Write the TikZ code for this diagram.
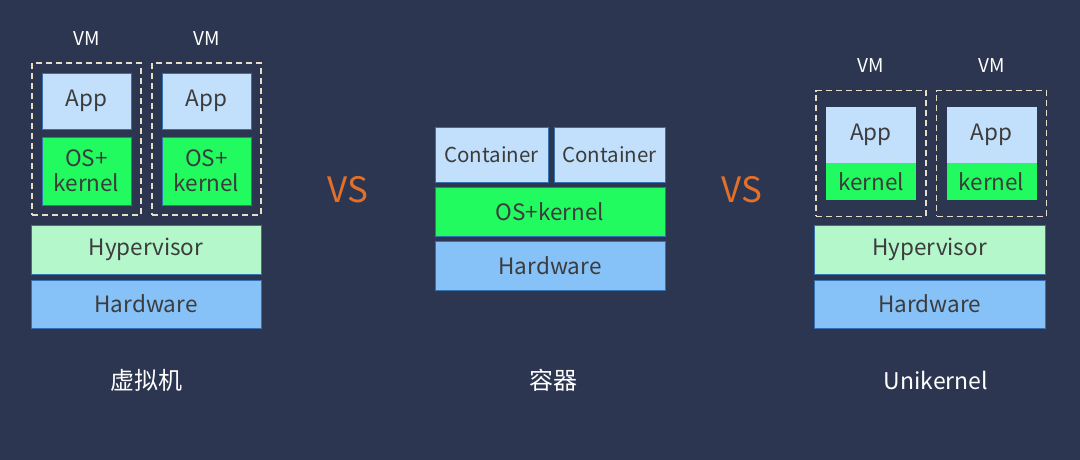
\documentclass[tikz,border=0pt]{standalone}
\usepackage{fontspec}
\setmainfont{Noto Sans CJK SC}
\usepackage{tikz}
\usetikzlibrary{positioning,fit}
\definecolor{bg}{HTML}{2D3650}
\definecolor{ink}{HTML}{3C3C3C}
\definecolor{edge}{HTML}{3570B0}
\definecolor{apppale}{HTML}{C2E0FB}
\definecolor{osgreen}{HTML}{22FB60}
\definecolor{hyppale}{HTML}{B3F7CB}
\definecolor{hwblue}{HTML}{86C2F8}
\definecolor{dash}{HTML}{E6DEC6}
\definecolor{vsorange}{HTML}{E2702A}
\tikzset{
  layer/.style={draw=edge,line width=0.9pt,inner sep=0pt,align=center,text=ink,font=\fontsize{22.5}{26}\selectfont},
  app/.style={layer,fill=apppale},
  os/.style={layer,fill=osgreen},
  hyp/.style={layer,fill=hyppale},
  hw/.style={layer,fill=hwblue},
  vmbox/.style={draw=dash,line width=1.8pt,dash pattern=on 6pt off 4pt,inner xsep=9.5pt},
  tag/.style={text=white,font=\fontsize{19}{21}\selectfont},
  title/.style={text=white,font=\fontsize{23}{25}\selectfont},
  vs/.style={text=vsorange,font=\fontsize{35}{37}\selectfont}
}
\begin{document}
\begin{tikzpicture}[x=1pt,y=-1pt]
  \fill[bg] (0,0) rectangle (1080,460);
  \useasboundingbox (0,0) rectangle (1080,460);
  % virtual machines
  \node[app,minimum width=89pt,minimum height=56pt] (app1) at (86.5,101) {App};
  \node[os,minimum width=89pt,minimum height=68pt] (os1) at (86.5,171) {OS+\\[-1pt]kernel};
  \node[app,minimum width=89pt,minimum height=56pt] (app2) at (206.5,101) {App};
  \node[os,minimum width=89pt,minimum height=68pt] (os2) at (206.5,171) {OS+\\[-1pt]kernel};
  \node[vmbox,inner ysep=9.5pt,fit=(app1)(os1)] (vm1) {};
  \node[vmbox,inner ysep=9.5pt,fit=(app2)(os2)] (vm2) {};
  \node[tag,above=13pt of vm1.north] (tag1) {VM};
  \node[tag,above=13pt of vm2.north] (tag2) {VM};
  \node[hyp,minimum width=230pt,minimum height=49pt] (hyp1) at (146,249.5) {Hypervisor};
  \node[hw,minimum width=230pt,minimum height=48pt] (hw1) at (146,304) {Hardware};
  \node[title,font=\fontsize{24}{26}\selectfont] (name1) at (146,380) {虚拟机};
  \node[vs] (vs1) at (348,190) {VS};
  % containers
  \node[app,minimum width=113pt,minimum height=55pt,font=\fontsize{20.5}{22}\selectfont] (ct1) at (491.5,154.5) {Container};
  \node[app,minimum width=111pt,minimum height=55pt,font=\fontsize{20.5}{22}\selectfont] (ct2) at (609.5,154.5) {Container};
  \node[os,minimum width=230pt,minimum height=49pt] (os3) at (550,211.5) {OS+kernel};
  \node[hw,minimum width=230pt,minimum height=49pt] (hw2) at (550,265.5) {Hardware};
  \node[title,font=\fontsize{24}{26}\selectfont] (name2) at (553,380) {容器};
  \node[vs] (vs2) at (742,190) {VS};
  % unikernel
  \node[app,draw=none,minimum width=90pt,minimum height=56pt] (app3) at (871,135) {App};
  \node[os,draw=none,minimum width=90pt,minimum height=37pt] (k3) at (871,181.5) {kernel};
  \node[app,draw=none,minimum width=90pt,minimum height=56pt] (app4) at (991.5,135) {App};
  \node[os,draw=none,minimum width=90pt,minimum height=37pt] (k4) at (991.5,181.5) {kernel};
  \node[vmbox,inner ysep=16pt,fit=(app3)(k3)] (vm3) {};
  \node[vmbox,inner ysep=16pt,fit=(app4)(k4)] (vm4) {};
  \node[tag,above=14pt of vm3.north] (tag3) {VM};
  \node[tag,above=14pt of vm4.north] (tag4) {VM};
  \node[hyp,minimum width=231pt,minimum height=49pt] (hyp2) at (929.5,249.5) {Hypervisor};
  \node[hw,minimum width=231pt,minimum height=48pt] (hw3) at (929.5,304) {Hardware};
  \node[title] (name3) at (936,380) {Unikernel};
\end{tikzpicture}
\end{document}
